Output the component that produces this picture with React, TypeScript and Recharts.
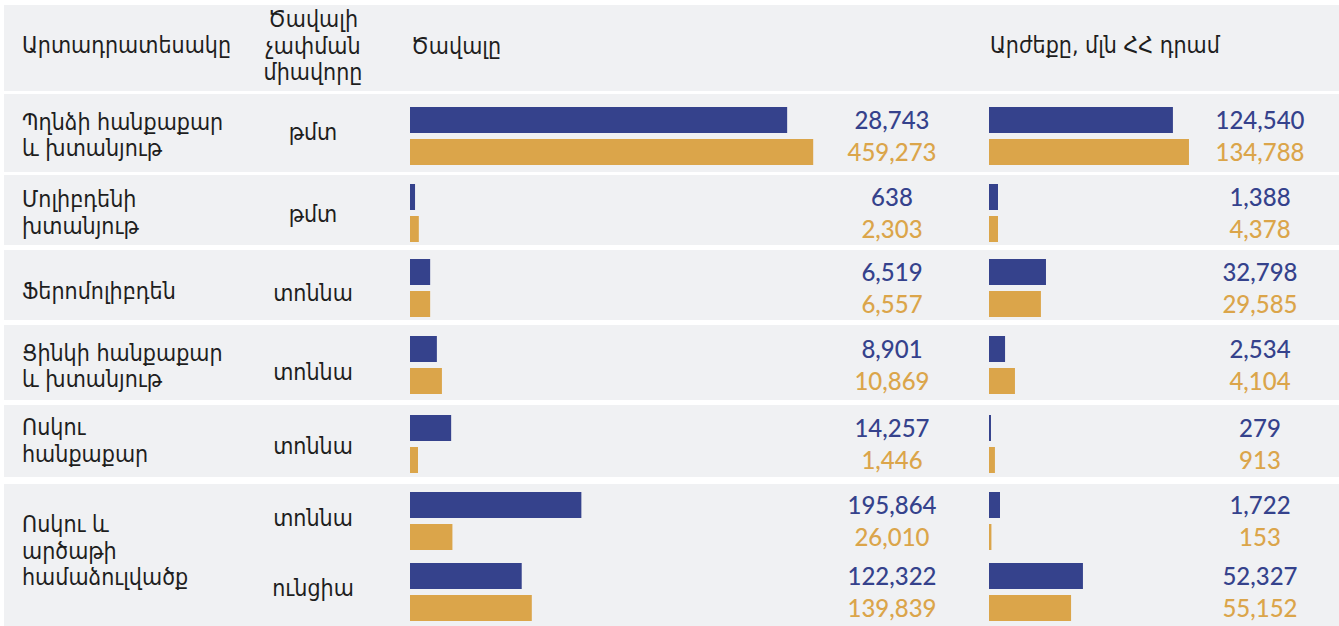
import React from 'react';
import { BarChart, Bar, XAxis, YAxis, Cell } from 'recharts';

// ---------- DATA ----------
const productLines: string[][] = [
  ['Պղնձի հանքաքար', 'և խտանյութ'],
  ['Մոլիբդենի', 'խտանյութ'],
  ['Ֆերոմոլիբդեն'],
  ['Ցինկի հանքաքար', 'և խտանյութ'],
  ['Ոսկու', 'հանքաքար'],
  ['Ոսկու և', 'արծաթի', 'համաձուլվածք'],
];

// one entry per bar pair (row 6 has two pairs)
const pairUnits = ['թմտ', 'թմտ', 'տոննա', 'տոննա', 'տոննա', 'տոննա', 'ունցիա'];

const volumePrev = [28743, 638, 6519, 8901, 14257, 195864, 122322];
const volumeCurr = [459273, 2303, 6557, 10869, 1446, 26010, 139839];
const valuePrev = [124540, 1388, 32798, 2534, 279, 1722, 52327];
const valueCurr = [134788, 4378, 29585, 4104, 913, 153, 55152];

// bar extents as drawn in the reference (relative units, 0-100 per column)
const volumeBarPrev = [89.8, 1.2, 4.8, 6.4, 9.8, 40.8, 26.6];
const volumeBarCurr = [96.0, 2.1, 4.8, 7.6, 1.9, 10.1, 29.0];
const valueBarPrev = [83.6, 4.1, 25.9, 7.3, 0.9, 5.0, 42.7];
const valueBarCurr = [90.9, 4.1, 23.6, 11.8, 2.7, 1.1, 37.3];

const headerProduct = 'Արտադրատեսակը';
const headerUnit = ['Ծավալի', 'չափման', 'միավորը'];
const headerVolume = 'Ծավալը';
const headerValue = 'Արժեքը, մլն ՀՀ դրամ';

// ---------- LAYOUT / STYLE ----------
const NAVY = '#35428c';
const GOLD = '#dba54a';
const ROW_BG = '#f0f1f3';
const TEXT = '#1e1e1e';
const ARM_FONT = '"DejaVu Sans Condensed", "DejaVu Sans", sans-serif';
const NUM_FONT = 'Lato, "Open Sans", sans-serif';

const rowBands = [
  [5, 91],
  [94, 172],
  [175, 245],
  [250, 320],
  [325, 400],
  [405, 477],
  [484, 630],
];
const productCenters = [135, 212.5, 291, 366, 440.5, 551];
const unitCenters = [132, 214, 293, 372, 446, 518, 588];
const pairTops = [104, 181, 256, 333, 412, 489, 560];

const LINE_H = 26.5;
const AXIS_W = 130;

const fmt = (v: number) => v.toLocaleString('en-US');

type PairProps = {
  left: number;
  top: number;
  plotWidth: number;
  labelOffset: number;
  barPrev: number;
  barCurr: number;
  valPrev: number;
  valCurr: number;
};

function PairChart(p: PairProps) {
  const data = [
    { k: 'prev', bar: p.barPrev, label: fmt(p.valPrev), color: NAVY },
    { k: 'curr', bar: p.barCurr, label: fmt(p.valCurr), color: GOLD },
  ];
  const Tick = (props: any) => {
    const { x, y, index } = props;
    const d = data[index];
    if (!d) return null;
    return (
      <text
        x={x + p.labelOffset}
        y={y - 1}
        textAnchor="middle"
        dominantBaseline="central"
        fill={d.color}
        fontFamily={NUM_FONT}
        fontSize={24}
        fontWeight={500}
      >
        {d.label}
      </text>
    );
  };
  return (
    <div style={{ position: 'absolute', left: p.left, top: p.top }}>
      <BarChart
        layout="vertical"
        width={p.plotWidth + AXIS_W}
        height={64}
        data={data}
        margin={{ top: 0, right: 0, bottom: 0, left: 0 }}
        barCategoryGap={3}
      >
        <XAxis type="number" domain={[0, 100]} hide />
        <YAxis
          type="category"
          dataKey="k"
          orientation="right"
          width={AXIS_W}
          axisLine={false}
          tickLine={false}
          interval={0}
          tickMargin={0}
          tick={<Tick />}
        />
        <Bar dataKey="bar" barSize={26} isAnimationActive={false}>
          {data.map((d) => (
            <Cell key={d.k} fill={d.color} />
          ))}
        </Bar>
      </BarChart>
    </div>
  );
}

function TextBlock({ lines, left, center, align }: { lines: string[]; left: number; center: number; align?: 'left' | 'center' }) {
  const h = lines.length * LINE_H;
  return (
    <div
      style={{
        position: 'absolute',
        left: align === 'center' ? left - 100 : left,
        width: align === 'center' ? 200 : 360,
        top: center - h / 2,
        lineHeight: `${LINE_H}px`,
        fontFamily: ARM_FONT,
        fontSize: 23,
        color: TEXT,
        textAlign: align === 'center' ? 'center' : 'left',
        whiteSpace: 'nowrap',
      }}
    >
      {lines.map((l, i) => (
        <div key={i}>{l}</div>
      ))}
    </div>
  );
}

export default function App() {
  return (
    <div style={{ position: 'absolute', left: 0, top: 0, width: 1339, height: 626, background: '#ffffff', overflow: 'hidden' }}>
      {rowBands.map(([t, b], i) => (
        <div key={i} style={{ position: 'absolute', left: 4, top: t, width: 1335, height: b - t, background: ROW_BG }} />
      ))}

      {/* header */}
      <TextBlock lines={[headerProduct]} left={22} center={45} />
      <TextBlock lines={headerUnit} left={313} center={46} align="center" />
      <TextBlock lines={[headerVolume]} left={411} center={46} />
      <TextBlock lines={[headerValue]} left={990} center={45} />

      {productLines.map((lines, i) => (
        <TextBlock key={i} lines={lines} left={22} center={productCenters[i]} />
      ))}
      {pairUnits.map((u, i) => (
        <TextBlock key={i} lines={[u]} left={313} center={unitCenters[i]} align="center" />
      ))}

      {pairTops.map((top, i) => (
        <React.Fragment key={i}>
          <PairChart
            left={410}
            top={top}
            plotWidth={420}
            labelOffset={56}
            barPrev={volumeBarPrev[i]}
            barCurr={volumeBarCurr[i]}
            valPrev={volumePrev[i]}
            valCurr={volumeCurr[i]}
          />
          <PairChart
            left={989}
            top={top}
            plotWidth={220}
            labelOffset={45}
            barPrev={valueBarPrev[i]}
            barCurr={valueBarCurr[i]}
            valPrev={valuePrev[i]}
            valCurr={valueCurr[i]}
          />
        </React.Fragment>
      ))}
    </div>
  );
}
